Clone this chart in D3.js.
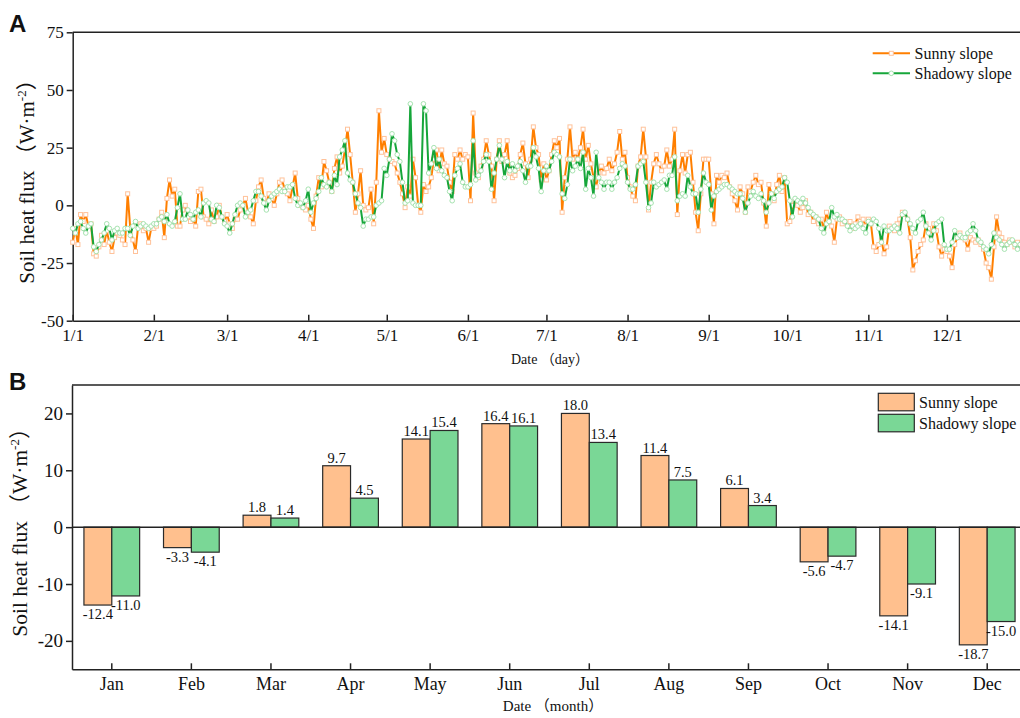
<!DOCTYPE html>
<html>
<head>
<meta charset="utf-8">
<script src="https://cdn.jsdelivr.net/npm/d3@7"></script>
<style>
  body { margin: 0; background: #fff; }
  text { font-family: "Liberation Serif", "Times New Roman", "Noto Sans CJK SC", serif; fill: #111; }
  text.panel { font-family: "Liberation Sans", Arial, sans-serif; font-weight: bold; }
</style>
</head>
<body>
<script>
// ---- panel A : daily values (W/m2), Jan 1 .. Dec 31 ----
var sunnyDaily = [
  // Jan
  -16,-10,-17,-4,-7,-4,-9,-8,-21,-22,-18,-13,-17,-11,-16,-20,-14,-12,-13,-15,-17,5,-10,-15,-20,-9,-8,-11,-10,-16,-10,
  // Feb
  -10,-9,-6,-3,-14,3,11,4,7,-9,-9,-2,0,-5,-7,-6,-9,6,7,-5,-6,-8,-2,-7,-5,0,-5,-7,
  // Mar
  -4,-8,-10,-6,-6,-2,0,3,-3,-5,-8,2,8,11,3,1,5,3,0,5,10,11,7,5,2,8,14,3,0,-1,-2,
  // Apr
  0,-6,-10,4,12,8,19,15,10,6,16,21,14,17,24,33,22,10,-3,5,15,0,-2,-1,7,-8,10,41,23,29,
  // May
  22,20,19,18,14,10,5,-1,8,4,20,12,0,-3,9,6,8,12,20,24,15,24,18,17,10,6,22,20,24,20,22,
  // Jun
  21,2,40,14,12,17,20,28,22,17,2,20,28,19,22,28,14,12,13,16,22,27,18,12,20,34,25,22,11,18,
  // Jul
  11,15,22,28,25,29,-3,12,20,34,20,23,20,25,33,20,26,18,12,8,14,17,14,16,20,15,18,23,32,20,23,
  // Aug
  12,8,4,2,17,21,33,21,-2,10,18,22,18,15,17,24,17,20,33,-4,15,22,14,22,23,10,-3,-11,5,20,20,
  // Sep
  20,5,-8,13,10,13,12,14,8,5,2,-2,8,5,-3,8,6,10,13,9,10,1,-9,9,5,2,9,13,6,12,
  // Oct
  -8,-7,0,2,0,-3,-1,2,-4,-3,-7,-5,-8,-6,-10,-3,-7,-9,-16,-6,-5,-8,-7,-8,-7,-10,-8,-5,-7,-6,-9,
  // Nov
  -6,-8,-18,-20,-17,-15,-21,-18,-9,-10,-11,-8,-6,-3,-4,-6,-14,-28,-24,-20,-17,-15,-8,-10,-13,-8,-11,-18,-22,-19,
  // Dec
  -20,-22,-27,-17,-14,-12,-14,-15,-19,-14,-15,-16,-15,-17,-19,-25,-27,-32,-18,-5,-12,-14,-16,-17,-15,-16,-18,-16,-18,-17,-19
];
var shadowyDaily = [
  // Jan
  -10,-12,-8,-7,-10,-12,-9,-8,-18,-20,-17,-15,-12,-8,-10,-15,-11,-10,-12,-12,-10,-10,-13,-9,-7,-10,-9,-8,-9,-10,-9,
  // Feb
  -8,-8,-6,-5,-7,-4,-8,-9,-7,-1,5,-6,-6,-2,-4,-6,-3,-2,-5,1,2,1,-6,-7,0,-1,-5,-8,
  // Mar
  -9,-12,-8,-4,0,1,0,-5,-3,-2,2,6,6,4,1,-2,2,4,5,6,7,6,6,8,8,9,3,0,1,-1,2,
  // Apr
  7,-3,1,3,6,12,9,8,10,6,13,9,21,24,28,14,11,10,5,1,-1,-9,-6,-6,-5,-5,0,1,2,16,
  // May
  13,20,31,28,22,19,10,1,2,44,1,0,0,0,44,41,14,18,25,16,20,15,13,12,6,2,13,16,18,10,8,
  // Jun
  8,9,28,11,13,15,19,22,19,7,14,20,26,20,12,19,15,18,15,17,19,15,10,17,17,25,21,16,6,15,
  // Jul
  17,15,19,23,22,21,5,3,9,20,15,17,20,16,23,7,16,12,4,23,12,10,7,10,10,7,10,12,16,18,17,
  // Aug
  10,7,7,9,17,18,19,10,-1,1,10,8,9,10,11,7,13,13,21,2,4,5,4,13,8,5,5,-3,7,14,10,
  // Sep
  9,-2,4,6,7,8,9,9,8,7,6,5,5,3,-3,1,4,6,4,3,5,2,-3,1,5,3,6,7,8,12,
  // Oct
  10,2,-5,3,2,1,3,1,-1,-3,-4,-5,-6,-10,-12,-8,-7,-1,-5,-4,-6,-6,-7,-9,-11,-9,-10,-9,-8,-10,-12,
  // Nov
  -7,-8,-6,-7,-10,-16,-9,-11,-11,-10,-9,-10,-12,-4,-3,-6,-8,-10,-12,-7,-6,-3,-9,-12,-15,-11,-8,-7,-6,-17,
  // Dec
  -19,-19,-16,-11,-14,-13,-14,-14,-12,-11,-8,-11,-15,-16,-18,-19,-21,-17,-12,-14,-15,-17,-19,-17,-16,-15,-17,-19,-17,-16,-18
];
var monthStartDays = [0, 31, 59, 90, 120, 151, 181, 212, 243, 273, 304, 334];
var dayTickLabels = ["1/1", "2/1", "3/1", "4/1", "5/1", "6/1", "7/1", "8/1", "9/1", "10/1", "11/1", "12/1"];
var dailyYTicks = [-50, -25, 0, 25, 50, 75];

// ---- panel B : monthly means ----
var months = ["Jan", "Feb", "Mar", "Apr", "May", "Jun", "Jul", "Aug", "Sep", "Oct", "Nov", "Dec"];
var sunnyMonthly = [-13.7, -3.6, 2.1, 10.8, 15.5, 18.2, 20.0, 12.6, 6.8, -6.1, -15.6, -20.7];
var shadowyMonthly = [-12.1, -4.4, 1.6, 5.1, 17.0, 17.8, 14.9, 8.3, 3.8, -5.1, -10.0, -16.6];
var sunnyLabels = ["-12.4", "-3.3", "1.8", "9.7", "14.1", "16.4", "18.0", "11.4", "6.1", "-5.6", "-14.1", "-18.7"];
var shadowyLabels = ["-11.0", "-4.1", "1.4", "4.5", "15.4", "16.1", "13.4", "7.5", "3.4", "-4.7", "-9.1", "-15.0"];
var monthlyYTicks = [-20, -10, 0, 10, 20];
var seriesNames = ["Sunny slope", "Shadowy slope"];

var sunnyLine = "#ff7f00", sunnyMark = "#ffc29a";
var shadyLine = "#16a63a", shadyMark = "#a6e3b0";
var sunnyBar = "#ffc08e", shadyBar = "#7ad796";
var axisColor = "#222";

// plain hyphen minus like the original figure
function plain(d) { return String(d); }

var svg = d3.select("body").append("svg")
  .attr("width", 1020)
  .attr("height", 718);

// =================== panel A ===================
var xA = d3.scaleLinear().domain([0, 365]).range([72.7, 1028]);
var yA = d3.scaleLinear().domain([-50, 75]).range([320.7, 32.3]);

var gA = svg.append("g");

gA.append("line")
  .attr("x1", 72.7).attr("x2", 1030)
  .attr("y1", yA(75)).attr("y2", yA(75))
  .attr("stroke", axisColor).attr("stroke-width", 1.5);

var yAxisA = gA.append("g")
  .attr("transform", "translate(72.7,0)")
  .call(d3.axisLeft(yA).tickValues(dailyYTicks).tickFormat(plain)
    .tickSize(6).tickSizeOuter(0).tickPadding(3));
var xAxisA = gA.append("g")
  .attr("transform", "translate(0," + yA(-50) + ")")
  .call(d3.axisBottom(xA).tickValues(monthStartDays)
    .tickFormat(function (d, i) { return dayTickLabels[i]; })
    .tickSizeInner(-6).tickSizeOuter(0).tickPadding(8));

[yAxisA, xAxisA].forEach(function (ax) {
  ax.selectAll("path, line").attr("stroke", axisColor).attr("stroke-width", 1.5);
  ax.selectAll("text").attr("font-size", 17).attr("fill", "#111");
});

var lineA = d3.line()
  .x(function (d, i) { return xA(i); })
  .y(function (d) { return yA(d); });

// sunny slope
gA.append("path")
  .datum(sunnyDaily)
  .attr("d", lineA)
  .attr("fill", "none")
  .attr("stroke", sunnyLine)
  .attr("stroke-width", 2)
  .attr("stroke-linejoin", "round");
gA.selectAll(".sq")
  .data(sunnyDaily)
  .enter()
  .append("rect")
  .attr("class", "sq")
  .attr("x", function (d, i) { return xA(i) - 2; })
  .attr("y", function (d) { return yA(d) - 2; })
  .attr("width", 4)
  .attr("height", 4)
  .attr("fill", "#fff")
  .attr("stroke", sunnyMark)
  .attr("stroke-width", 1);

// shadowy slope
gA.append("path")
  .datum(shadowyDaily)
  .attr("d", lineA)
  .attr("fill", "none")
  .attr("stroke", shadyLine)
  .attr("stroke-width", 2)
  .attr("stroke-linejoin", "round");
gA.selectAll(".ci")
  .data(shadowyDaily)
  .enter()
  .append("circle")
  .attr("class", "ci")
  .attr("cx", function (d, i) { return xA(i); })
  .attr("cy", function (d) { return yA(d); })
  .attr("r", 2.3)
  .attr("fill", "#fff")
  .attr("stroke", shadyMark)
  .attr("stroke-width", 1);

// legend A
var legA = gA.append("g");
[0, 1].forEach(function (k) {
  var ly = 53.3 + k * 20;
  legA.append("line")
    .attr("x1", 872.7).attr("x2", 910).attr("y1", ly).attr("y2", ly)
    .attr("stroke", k === 0 ? sunnyLine : shadyLine).attr("stroke-width", 2);
  if (k === 0) {
    legA.append("rect").attr("x", 889.3).attr("y", ly - 2).attr("width", 4).attr("height", 4)
      .attr("fill", "#fff").attr("stroke", sunnyMark);
  } else {
    legA.append("circle").attr("cx", 891.3).attr("cy", ly).attr("r", 2.3)
      .attr("fill", "#fff").attr("stroke", shadyMark);
  }
  legA.append("text")
    .attr("x", 914.5).attr("y", ly + 5.5)
    .attr("font-size", 16)
    .text(seriesNames[k]);
});

gA.append("text")
  .attr("transform", "translate(34," + yA(12.5) + ") rotate(-90)")
  .attr("text-anchor", "middle")
  .attr("font-size", 21)
  .call(function (t) {
    t.append("tspan").text("Soil heat flux （W·m");
    t.append("tspan").attr("font-size", 13).attr("dy", -8).text("-2");
    t.append("tspan").attr("dy", 8).text("）");
  });

gA.append("text")
  .attr("x", 550).attr("y", 364)
  .attr("text-anchor", "middle")
  .attr("font-size", 14)
  .text("Date （day）");

svg.append("text")
  .attr("class", "panel")
  .attr("x", 9).attr("y", 32)
  .attr("font-size", 24)
  .text("A");

// =================== panel B ===================
var xB = d3.scaleBand().domain(months).range([72, 1027]).paddingInner(0.3).paddingOuter(0.15);
var xSub = d3.scaleBand().domain(seriesNames).range([0, xB.bandwidth()]);
var yB = d3.scaleLinear().domain([-25, 25]).range([669.3, 385]);

var gB = svg.append("g");

gB.append("line")
  .attr("x1", 72).attr("x2", 1030)
  .attr("y1", yB(25)).attr("y2", yB(25))
  .attr("stroke", axisColor).attr("stroke-width", 1.5);

var rows = months.map(function (m, i) {
  return [
    { month: m, key: seriesNames[0], value: sunnyMonthly[i], label: sunnyLabels[i], fill: sunnyBar },
    { month: m, key: seriesNames[1], value: shadowyMonthly[i], label: shadowyLabels[i], fill: shadyBar }
  ];
});

var group = gB.selectAll(".grp")
  .data(rows)
  .enter()
  .append("g")
  .attr("class", "grp")
  .attr("transform", function (d) { return "translate(" + xB(d[0].month) + ",0)"; });

group.selectAll("rect")
  .data(function (d) { return d; })
  .enter()
  .append("rect")
  .attr("x", function (d) { return xSub(d.key); })
  .attr("y", function (d) { return yB(Math.max(0, d.value)); })
  .attr("width", xSub.bandwidth())
  .attr("height", function (d) { return Math.abs(yB(d.value) - yB(0)); })
  .attr("fill", function (d) { return d.fill; })
  .attr("stroke", "#2a2a2a")
  .attr("stroke-width", 1.2);

group.selectAll("text")
  .data(function (d) { return d; })
  .enter()
  .append("text")
  .attr("x", function (d) { return xSub(d.key) + xSub.bandwidth() / 2; })
  .attr("y", function (d) { return d.value >= 0 ? yB(d.value) - 3 : yB(d.value) + 14; })
  .attr("text-anchor", "middle")
  .attr("font-size", 14.5)
  .text(function (d) { return d.label; });

// zero line
gB.append("line")
  .attr("x1", 72).attr("x2", 1030)
  .attr("y1", yB(0)).attr("y2", yB(0))
  .attr("stroke", axisColor).attr("stroke-width", 1.5);

var yAxisB = gB.append("g")
  .attr("transform", "translate(72,0)")
  .call(d3.axisLeft(yB).tickValues(monthlyYTicks).tickFormat(plain)
    .tickSize(6).tickSizeOuter(0).tickPadding(3));
var xAxisB = gB.append("g")
  .attr("transform", "translate(0," + yB(-25) + ")")
  .call(d3.axisBottom(xB).tickSizeInner(-6).tickSizeOuter(0).tickPadding(8));

yAxisB.selectAll("text").attr("font-size", 19);
xAxisB.selectAll("text").attr("font-size", 18);
[yAxisB, xAxisB].forEach(function (ax) {
  ax.selectAll("path, line").attr("stroke", axisColor).attr("stroke-width", 1.5);
  ax.selectAll("text").attr("fill", "#111");
});

// legend B
var legB = gB.append("g");
[0, 1].forEach(function (k) {
  legB.append("rect")
    .attr("x", 878.3).attr("y", 393.3 + k * 21)
    .attr("width", 36).attr("height", 17.5)
    .attr("fill", k === 0 ? sunnyBar : shadyBar)
    .attr("stroke", "#2a2a2a").attr("stroke-width", 1.2);
  legB.append("text")
    .attr("x", 919).attr("y", 408 + k * 21)
    .attr("font-size", 16)
    .text(seriesNames[k]);
});

gB.append("text")
  .attr("transform", "translate(27," + yB(0) + ") rotate(-90)")
  .attr("text-anchor", "middle")
  .attr("font-size", 21.5)
  .call(function (t) {
    t.append("tspan").text("Soil heat flux （W·m");
    t.append("tspan").attr("font-size", 13).attr("dy", -8).text("-2");
    t.append("tspan").attr("dy", 8).text("）");
  });

gB.append("text")
  .attr("x", 553).attr("y", 711)
  .attr("text-anchor", "middle")
  .attr("font-size", 15)
  .text("Date （month）");

svg.append("text")
  .attr("class", "panel")
  .attr("x", 9).attr("y", 390)
  .attr("font-size", 24)
  .text("B");
</script>
</body>
</html>
